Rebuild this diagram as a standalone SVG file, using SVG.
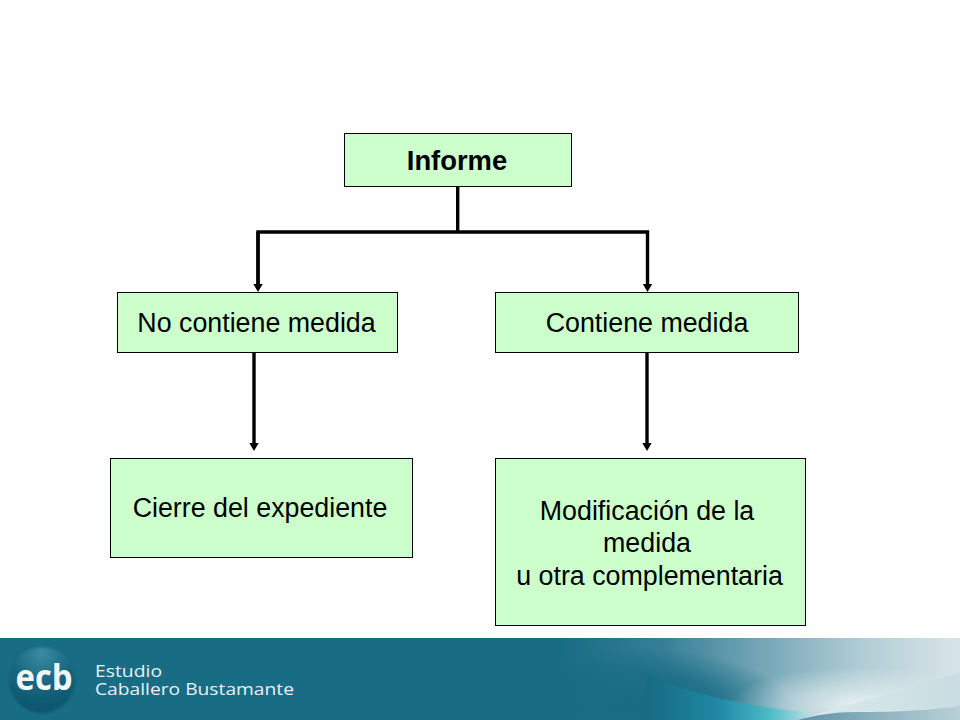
<svg xmlns="http://www.w3.org/2000/svg" width="960" height="720" viewBox="0 0 960 720">
<style>
.box{fill:#ccffcc;stroke:#000;stroke-width:1}
.t{font-family:"Liberation Sans",Arial,sans-serif;font-size:26.8px;fill:#000;text-anchor:middle}
.b{font-weight:bold;font-size:27.4px}
.c{fill:none;stroke:#000;stroke-width:3.4;stroke-linejoin:miter}
.logo{font-family:"Open Sans","Noto Sans",sans-serif;font-size:17px;fill:#e6f2f4}
</style>
<defs>
<marker id="a" markerUnits="userSpaceOnUse" markerWidth="9" markerHeight="11" refX="0.500" refY="5.500" orient="auto" viewBox="0 0 9 11"><path d="M0 0.500L8.500 5.500L0 10.500Z" fill="#000"/></marker>
<linearGradient id="sky" gradientUnits="userSpaceOnUse" x1="560" y1="0" x2="960" y2="0"><stop offset="0" stop-color="#186c84"/><stop offset="0.25" stop-color="#347f96"/><stop offset="0.5" stop-color="#74a6b6"/><stop offset="0.75" stop-color="#b0ccd5"/><stop offset="1" stop-color="#d8e5e8"/></linearGradient>
<radialGradient id="dark"><stop offset="0" stop-color="#186c84"/><stop offset="0.55" stop-color="#186c84" stop-opacity=".8"/><stop offset="1" stop-color="#186c84" stop-opacity="0"/></radialGradient>
<radialGradient id="glow"><stop offset="0" stop-color="#eef5f6" stop-opacity=".9"/><stop offset="0.5" stop-color="#e6eff1" stop-opacity=".5"/><stop offset="1" stop-color="#e6eff1" stop-opacity="0"/></radialGradient>
<linearGradient id="sw" gradientUnits="userSpaceOnUse" x1="650" y1="0" x2="820" y2="0"><stop offset="0" stop-color="#186c84"/><stop offset="0.4" stop-color="#1f88a3"/><stop offset="0.7" stop-color="#4cbbc8"/><stop offset="1" stop-color="#d0e8ea"/></linearGradient>
<linearGradient id="lo" gradientUnits="userSpaceOnUse" x1="800" y1="0" x2="960" y2="0"><stop offset="0" stop-color="#5f94a6"/><stop offset="0.5" stop-color="#8fb3bf"/><stop offset="1" stop-color="#b8d0d7"/></linearGradient>
<linearGradient id="pale" gradientUnits="userSpaceOnUse" x1="820" y1="0" x2="960" y2="0"><stop offset="0" stop-color="#d9e8eb"/><stop offset="1" stop-color="#c9dde2"/></linearGradient>
<radialGradient id="ball" cx="0.5" cy="0.1" r="0.95"><stop offset="0" stop-color="#3a8ba1"/><stop offset="0.55" stop-color="#14627b"/><stop offset="1" stop-color="#0c5469"/></radialGradient>
<filter id="bl2" x="-20%" y="-20%" width="140%" height="140%"><feGaussianBlur stdDeviation="1"/></filter>
<clipPath id="band"><rect x="0" y="638" width="960" height="82"/></clipPath>
</defs>
<rect width="960" height="720" fill="#fff"/>
<g id="footer" clip-path="url(#band)">
<rect x="0" y="638" width="960" height="82" fill="#186c84"/>
<rect x="560" y="638" width="400" height="82" fill="url(#sky)"/>
<ellipse cx="630" cy="705" rx="160" ry="58" fill="url(#dark)"/>
<ellipse cx="860" cy="705" rx="130" ry="38" fill="url(#glow)"/>
<path d="M648 675C700 698 760 708 815 713L800 720H640Z" fill="url(#sw)"/>
<path d="M800 720C850 702 910 690 960 672V708L850 712Z" fill="url(#pale)"/>
<path d="M798 720C815 715 835 712 855 712C900 712 930 710 960 706V720Z" fill="url(#lo)"/>
<circle cx="42" cy="680" r="33" fill="url(#ball)" filter="url(#bl2)"/>
<text x="44" y="690" font-family="'Open Sans','DejaVu Sans',sans-serif" font-size="36" font-weight="700" fill="#f2f8f9" text-anchor="middle" textLength="57" lengthAdjust="spacingAndGlyphs">ecb</text>
<text class="logo" x="95" y="677" textLength="67" lengthAdjust="spacingAndGlyphs">Estudio</text>
<text class="logo" x="95" y="695" textLength="199" lengthAdjust="spacingAndGlyphs">Caballero Bustamante</text>
</g>
<g id="connectors">
<path class="c" d="M457.700 187V232"/>
<path class="c" d="M258 284V232H647.500V284" marker-end="url(#a)"/>
<path class="c" d="M258 232V284" marker-end="url(#a)"/>
<path class="c" d="M254 353V443" marker-end="url(#a)"/>
<path class="c" d="M647 353V443" marker-end="url(#a)"/>
</g>
<g id="informe"><rect class="box" x="344.500" y="133.500" width="227" height="53"/><text class="t b" x="457" y="170">Informe</text></g>
<g id="no-contiene"><rect class="box" x="117.500" y="292.500" width="280" height="60"/><text class="t" x="256.500" y="332">No contiene medida</text></g>
<g id="contiene"><rect class="box" x="495.500" y="292.500" width="303" height="60"/><text class="t" x="647" y="332">Contiene medida</text></g>
<g id="cierre"><rect class="box" x="110.500" y="458.500" width="302" height="99"/><text class="t" x="260" y="517">Cierre del expediente</text></g>
<g id="modificacion"><rect class="box" x="495.500" y="458.500" width="310" height="167"/><text class="t" x="647" y="520">Modificación de la</text><text class="t" x="647" y="552">medida</text><text class="t" x="649.500" y="585">u otra complementaria</text></g>
</svg>
